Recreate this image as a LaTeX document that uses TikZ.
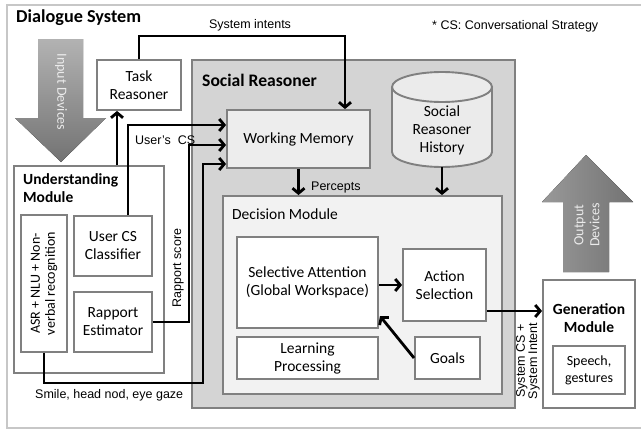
\documentclass[tikz,border=0pt]{standalone}
\usepackage{fontspec}
\setmainfont{Carlito}
\newfontfamily\lab{Liberation Sans}
\usetikzlibrary{arrows.meta,calc}
\begin{document}
\begin{tikzpicture}[x=1pt,y=-1pt,
  box/.style={draw=black!50, line width=1.9pt, fill=white, align=center, inner sep=0pt,
    font=\fontsize{15.5}{18}\selectfont},
  txt/.style={align=center, inner sep=0pt, font=\fontsize{15.5}{18}\selectfont},
  ttl/.style={align=left, inner sep=0pt, font=\bfseries\fontsize{17.6}{19}\selectfont},
  conn/.style={line width=2.8pt, -{Straight Barb[length=5pt,width=12pt]}},
  lbl/.style={inner sep=0pt, align=center, font=\lab\fontsize{12.5}{14}\selectfont}]
\useasboundingbox (0,0) rectangle (641,431);
% outer frame
\draw[black!22, line width=1.3pt] (7,5) rectangle (680,428);
\node[ttl, anchor=west, font=\bfseries\fontsize{18.2}{20}\selectfont] (title) at (16,18) {Dialogue System};
\node[lbl, anchor=west] (note) at (432,26) {* CS: Conversational Strategy};

% input devices arrow
\fill[top color=black!30, bottom color=black!55] (38,39) -- (83,39) -- (83,118) -- (106,118) -- (61,162) -- (15,118) -- (38,118) -- cycle;
\node[txt, rotate=-90, text=black!8, font=\fontsize{14}{16}\selectfont] (indev) at (61,92) {Input Devices};

% output devices arrow
\fill[left color=black!40, right color=black!55] (563,272) -- (563,202) -- (542,202) -- (586,155) -- (633,202) -- (609,202) -- (609,272) -- cycle;
\node[txt, rotate=90, text=black!8, font=\fontsize{14}{16}\selectfont] (outdev) at (587,225) {Output\\Devices};

% task reasoner
\node[box, minimum width=84pt, minimum height=50pt] (task) at (139,85) {Task\\Reasoner};

% social reasoner
\node[box, fill=black!17, minimum width=323pt, minimum height=348pt] (sr) at (353.5,234) {};
\node[ttl, anchor=west] (srt) at (202,80) {Social Reasoner};
\node[box, fill=black!7, minimum width=143pt, minimum height=58pt] (wm) at (298.5,139) {Working Memory};

% history cylinder
\path[fill=black!8] (392,87) -- (392,152) .. controls (392,160.3) and (414.4,167) .. (442,167)
  .. controls (469.6,167) and (492,160.3) .. (492,152) -- (492,87) -- cycle;
\draw[black!50, line width=1.9pt] (392,87) -- (392,152) .. controls (392,160.3) and (414.4,167) .. (442,167)
  .. controls (469.6,167) and (492,160.3) .. (492,152) -- (492,87);
\draw[black!50, line width=1.9pt, fill=black!8] (442,87) ellipse [x radius=50, y radius=15];
\node[txt, minimum width=100pt, minimum height=74pt] (hist) at (442,130) {Social\\Reasoner\\History};

% decision module
\node[box, fill=black!5, minimum width=279pt, minimum height=198pt] (dec) at (362.5,295) {};
\node[txt, anchor=west] (dect) at (232,214) {Decision Module};
\node[box, minimum width=141pt, minimum height=91pt] (sel) at (307.5,282.5) {Selective Attention\\(Global Workspace)};
\node[box, minimum width=141pt, minimum height=42pt] (learn) at (307.5,358) {Learning\\Processing};
\node[box, minimum width=83pt, minimum height=72pt] (act) at (444.5,285) {Action\\Selection};
\node[box, minimum width=65pt, minimum height=42pt] (goals) at (447.5,358) {Goals};

% generation module
\node[box, minimum width=92pt, minimum height=128pt] (gen) at (589,344) {};
\node[txt, font=\bfseries\fontsize{15.5}{17.5}\selectfont] (gent) at (589,318) {Generation\\Module};
\node[box, minimum width=72pt, minimum height=48pt, font=\fontsize{14}{17}\selectfont] (speech) at (589,370) {Speech,\\gestures};

% understanding module
\node[box, minimum width=150pt, minimum height=207pt] (und) at (89,269.5) {};
\node[ttl, anchor=north west, font=\bfseries\fontsize{15.5}{18}\selectfont] (undt) at (23,173) {Understanding\\Module};
\node[box, minimum width=46pt, minimum height=137pt] (asr) at (44,283.5) {};
\node[txt, rotate=90, font=\fontsize{14}{15}\selectfont] (asrt) at (44,283.5) {ASR + NLU + Non-\\verbal recognition};
\node[box, minimum width=78pt, minimum height=60pt] (ucs) at (113,246) {User CS\\Classifier};
\node[box, minimum width=78pt, minimum height=60pt] (rap) at (113,322) {Rapport\\Estimator};

% helper coordinates
\coordinate (x117) at (117,0);
\coordinate (si) at (345,36);
\coordinate (a1) at (128,125);
\coordinate (b1) at (189,145);
\coordinate (c1) at (203,383);
\coordinate (c2) at (203,164);
\coordinate (g1) at (380,316);
\coordinate (ag) at (486,311);

% connectors
\draw[conn] (und.north -| x117) -- (task.south -| x117);
\draw[conn] (task.north) |- (si) -- (wm.north -| si);
\draw[conn] (ucs.north -| a1) -- (a1) -- (wm.west |- a1);
\draw[conn] (rap.east) -| (b1) -- (wm.west |- b1);
\draw[conn] (asr.south) |- (c1) -- (c2) -- (wm.west |- c2);
\draw[conn] (wm.south) -- (dec.north -| wm.south);
\draw[conn] (hist.south) -- (dec.north -| hist.south);
\draw[conn] (sel.east |- act.west) -- (act.west);
\draw[conn] (goals.west) -- (g1);
\draw[conn] (ag -| act.east) -- (ag -| gen.west);

% labels
\node[lbl] (lsi) at (250,25) {System intents};
\node[lbl, anchor=west] (lperc) at (311,187) {Percepts};
\node[lbl, anchor=west] (lucs) at (135,140) {User’s\ \ CS};
\node[lbl, rotate=90] (lrap) at (178,268) {Rapport score};
\node[lbl, anchor=west] (lsmile) at (35,395) {Smile, head nod, eye gaze};
\node[lbl, rotate=90, font=\lab\fontsize{12.5}{9.5}\selectfont] (lsys) at (528,361) {System CS +\\System Intent};
\end{tikzpicture}
\end{document}
